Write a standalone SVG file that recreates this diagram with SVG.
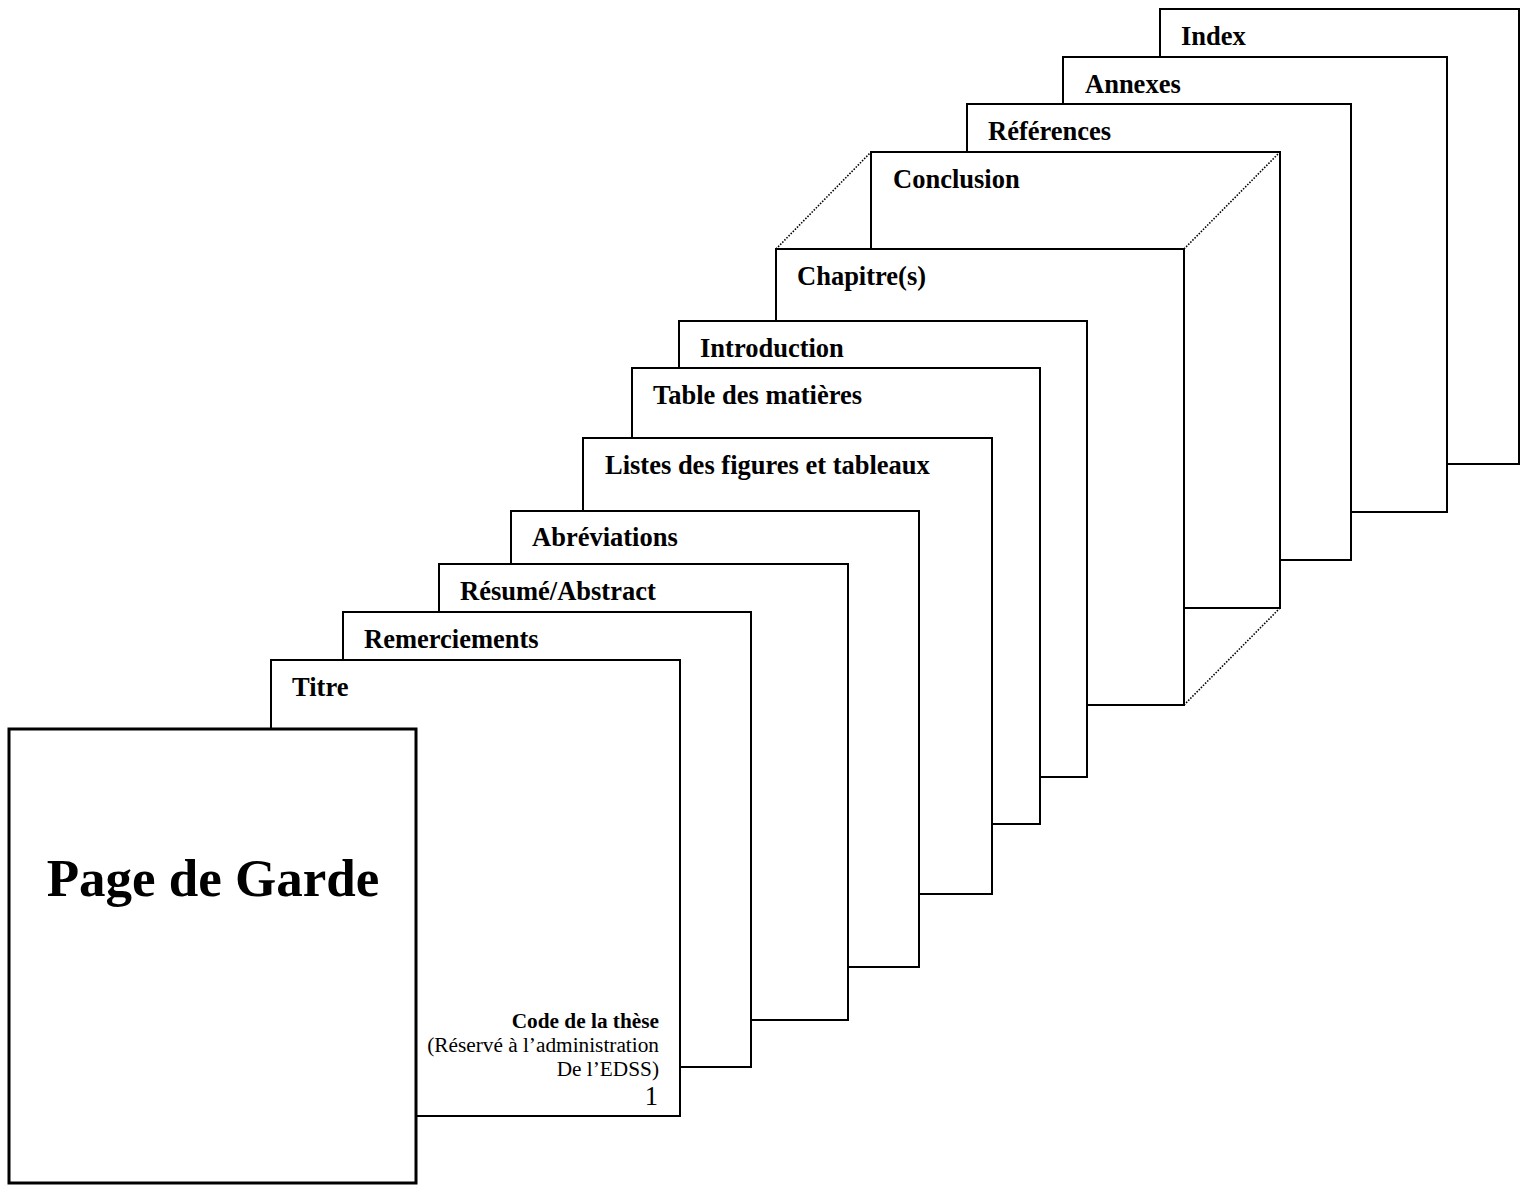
<svg xmlns="http://www.w3.org/2000/svg" width="1527" height="1186" viewBox="0 0 1527 1186">
<style>
.pg{fill:#fff;stroke:#000;stroke-width:2}
.cover{fill:#fff;stroke:#000;stroke-width:3}
.lb{font-family:"Liberation Serif","Times New Roman",serif;font-weight:bold;font-size:26.5px;fill:#000}
.big{font-family:"Liberation Serif","Times New Roman",serif;font-weight:bold;font-size:53px;fill:#000}
.sm{font-family:"Liberation Serif","Times New Roman",serif;font-size:21.3px;fill:#000}
.num{font-family:"Liberation Serif","Times New Roman",serif;font-size:26.5px;fill:#000}
.dot{stroke:#000;stroke-width:1.6;stroke-dasharray:1.5 1.5;fill:none}
</style>
<rect width="1527" height="1186" fill="#fff"/>
<g id="index"><rect class="pg" x="1160" y="9" width="359" height="455"/><text class="lb" x="1181" y="45">Index</text></g>
<g id="annexes"><rect class="pg" x="1063" y="57" width="384" height="455"/><text class="lb" x="1085" y="93">Annexes</text></g>
<g id="references"><rect class="pg" x="967" y="104" width="384" height="456"/><text class="lb" x="988" y="140">Références</text></g>
<g id="conclusion"><rect class="pg" x="871" y="152" width="409" height="456"/><text class="lb" x="893" y="188">Conclusion</text></g>
<g id="chapitres"><rect class="pg" x="776" y="249" width="408" height="456"/><text class="lb" x="797" y="285">Chapitre(s)</text></g>
<g id="introduction"><rect class="pg" x="679" y="321" width="408" height="456"/><text class="lb" x="700" y="357">Introduction</text></g>
<g id="table"><rect class="pg" x="632" y="368" width="408" height="456"/><text class="lb" x="653" y="404">Table des matières</text></g>
<g id="listes"><rect class="pg" x="583" y="438" width="409" height="456"/><text class="lb" x="605" y="474">Listes des figures et tableaux</text></g>
<g id="abreviations"><rect class="pg" x="511" y="511" width="408" height="456"/><text class="lb" x="532" y="546">Abréviations</text></g>
<g id="resume"><rect class="pg" x="439" y="564" width="409" height="456"/><text class="lb" x="460" y="600">Résumé/Abstract</text></g>
<g id="remerciements"><rect class="pg" x="343" y="612" width="408" height="455"/><text class="lb" x="364" y="648">Remerciements</text></g>
<g id="titre"><rect class="pg" x="271" y="660" width="409" height="456"/><text class="lb" x="292" y="696">Titre</text>
<text class="sm" x="659" y="1028" text-anchor="end" font-weight="bold">Code de la thèse</text>
<text class="sm" x="659" y="1052" text-anchor="end">(Réservé à l’administration</text>
<text class="sm" x="659" y="1076" text-anchor="end">De l’EDSS)</text>
<text class="num" x="658" y="1105" text-anchor="end">1</text></g>
<g id="page-de-garde"><rect class="cover" x="9" y="729" width="407" height="454"/><text class="big" x="213" y="896" text-anchor="middle">Page de Garde</text></g>
<g id="connectors">
<line class="dot" x1="776" y1="249" x2="871" y2="152"/>
<line class="dot" x1="1184" y1="249" x2="1280" y2="152"/>
<line class="dot" x1="1184" y1="705" x2="1280" y2="608"/>
</g>
</svg>
